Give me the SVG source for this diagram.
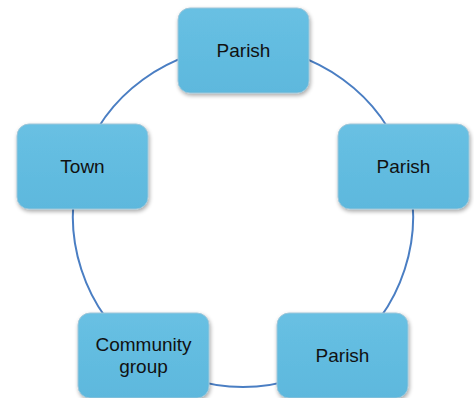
<svg xmlns="http://www.w3.org/2000/svg" width="474" height="398" viewBox="0 0 474 398">
  <style>
    .box { fill: url(#boxFill); stroke: #9ec6d9; stroke-width: 1; filter: url(#shadow); }
    .lbl { font-family: "Liberation Sans", Arial, sans-serif; font-size: 19px; fill: #111111; text-anchor: middle; }
    .arc { fill: none; stroke: #4a7ec3; stroke-width: 2; }
  </style>
  <defs>
    <linearGradient id="boxFill" x1="0" y1="0" x2="0" y2="1">
      <stop offset="0" stop-color="#68c0e3"/>
      <stop offset="1" stop-color="#5db8dd"/>
    </linearGradient>
    <filter id="shadow" x="-10%" y="-10%" width="125%" height="130%">
      <feGaussianBlur in="SourceAlpha" stdDeviation="2"/>
      <feOffset dx="1" dy="2" result="b"/>
      <feComponentTransfer><feFuncA type="linear" slope="0.35"/></feComponentTransfer>
      <feMerge><feMergeNode/><feMergeNode in="SourceGraphic"/></feMerge>
    </filter>
  </defs>
  <rect width="474" height="398" fill="#ffffff"/>
  <g id="connectors">
    <path class="arc" d="M243,47 A170,170 0 0 1 404.7,164.5"/>
    <path class="arc" d="M404.7,164.5 A170,170 0 0 1 342.9,354.5"/>
    <path class="arc" d="M342.9,354.5 A170,170 0 0 1 143.1,354.5"/>
    <path class="arc" d="M143.1,354.5 A170,170 0 0 1 81.3,164.5"/>
    <path class="arc" d="M81.3,164.5 A170,170 0 0 1 243,47"/>
  </g>
  <g id="node-parish-top">
    <rect class="box" x="178" y="8" width="131" height="85" rx="12"/>
    <text class="lbl" x="243.5" y="57">Parish</text>
  </g>
  <g id="node-parish-right">
    <rect class="box" x="338" y="124" width="131" height="85" rx="12"/>
    <text class="lbl" x="403.5" y="173">Parish</text>
  </g>
  <g id="node-parish-bottom">
    <rect class="box" x="277" y="313" width="131" height="85" rx="12"/>
    <text class="lbl" x="342.5" y="362">Parish</text>
  </g>
  <g id="node-community">
    <rect class="box" x="78" y="313" width="131" height="85" rx="12"/>
    <text class="lbl" x="143.5" y="351">Community</text>
    <text class="lbl" x="143.5" y="373">group</text>
  </g>
  <g id="node-town">
    <rect class="box" x="17" y="124" width="131" height="85" rx="12"/>
    <text class="lbl" x="82.5" y="173">Town</text>
  </g>
</svg>
